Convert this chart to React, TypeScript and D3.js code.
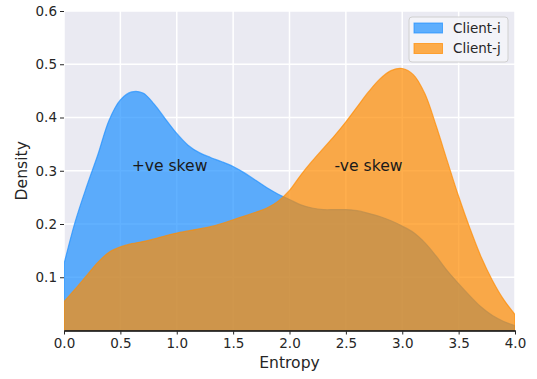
import React, { useEffect, useRef } from "react"
import * as d3 from "d3"

// entropy grid (0.0 .. 4.0, step 0.1)
const entropy = [
	0.0, 0.1, 0.2, 0.3, 0.4, 0.5, 0.6, 0.7, 0.8, 0.9, 1.0, 1.1, 1.2, 1.3, 1.4,
	1.5, 1.6, 1.7, 1.8, 1.9, 2.0, 2.1, 2.2, 2.3, 2.4, 2.5, 2.6, 2.7, 2.8, 2.9,
	3.0, 3.1, 3.2, 3.3, 3.4, 3.5, 3.6, 3.7, 3.8, 3.9, 4.0,
]

const clientI = [
	0.125, 0.205, 0.27, 0.33, 0.395, 0.433, 0.448, 0.446, 0.425, 0.397, 0.37,
	0.348, 0.334, 0.325, 0.317, 0.308, 0.296, 0.282, 0.268, 0.256, 0.246, 0.236,
	0.23, 0.227, 0.227, 0.227, 0.225, 0.22, 0.214, 0.206, 0.196, 0.184, 0.165,
	0.14, 0.112, 0.088, 0.065, 0.044, 0.028, 0.017, 0.009,
]

const clientJ = [
	0.054, 0.078, 0.103, 0.128, 0.147, 0.157, 0.163, 0.167, 0.172, 0.178, 0.183,
	0.187, 0.191, 0.195, 0.201, 0.208, 0.215, 0.222, 0.23, 0.243, 0.263, 0.292,
	0.318, 0.342, 0.366, 0.392, 0.42, 0.448, 0.472, 0.488, 0.492, 0.48, 0.445,
	0.385, 0.318, 0.252, 0.192, 0.138, 0.094, 0.058, 0.03,
]

const seriesNames = ["Client-i", "Client-j"]
const xTicks = [0, 0.5, 1, 1.5, 2, 2.5, 3, 3.5, 4]
const yTicks = [0.1, 0.2, 0.3, 0.4, 0.5, 0.6]
const notes = [
	{ x: 0.6, y: 0.3, text: "+ve skew" },
	{ x: 2.4, y: 0.3, text: "-ve skew" },
]

const colors = ["#1e90ff", "#ff8c00"]
const FONT = "DejaVu Sans, sans-serif"

const App = () => {
	const svgRef = useRef<SVGSVGElement>(null)

	useEffect(() => {
		const width = 537
		const height = 379
		const margin = { top: 11, right: 22, bottom: 48.5, left: 64 }

		const svg = d3.select(svgRef.current)
		svg.selectAll("*").remove()

		const x = d3
			.scaleLinear()
			.domain([0, 4])
			.range([margin.left, width - margin.right])
		const y = d3
			.scaleLinear()
			.domain([0, 0.6])
			.range([height - margin.bottom, margin.top])

		// background
		svg.append("rect")
			.attr("x", x(0))
			.attr("y", y(0.6))
			.attr("width", x(4) - x(0))
			.attr("height", y(0) - y(0.6))
			.attr("fill", "#eaeaf2")

		// grid
		const grid = svg.append("g").attr("stroke", "#fff").attr("stroke-width", 1.5)
		grid.selectAll(".vg")
			.data(xTicks)
			.join("line")
			.attr("x1", (d) => x(d))
			.attr("x2", (d) => x(d))
			.attr("y1", y(0))
			.attr("y2", y(0.6))
		grid.selectAll(".hg")
			.data(yTicks)
			.join("line")
			.attr("x1", x(0))
			.attr("x2", x(4))
			.attr("y1", (d) => y(d))
			.attr("y2", (d) => y(d))

		svg.append("defs")
			.append("clipPath")
			.attr("id", "plot-clip")
			.append("rect")
			.attr("x", x(0))
			.attr("y", y(0.6))
			.attr("width", x(4) - x(0))
			.attr("height", y(0) - y(0.6))

		const area = d3
			.area<number>()
			.x((_, i) => x(entropy[i]))
			.y0(y(0))
			.y1((d) => y(d))
			.curve(d3.curveCatmullRom)

		svg.append("g")
			.attr("clip-path", "url(#plot-clip)")
			.selectAll("path")
			.data([clientI, clientJ])
			.join("path")
			.attr("d", (d) => area(d))
			.attr("fill", (_, i) => colors[i])
			.attr("fill-opacity", 0.7)
			.attr("stroke", (_, i) => colors[i])
			.attr("stroke-opacity", 0.7)
			.attr("stroke-width", 1.2)

		// axes
		const xAxis = svg.append("g")
			.attr("transform", `translate(0, ${y(0)})`)
			.call(
				d3.axisBottom(x)
					.tickValues(xTicks)
					.tickFormat(d3.format(".1f"))
					.tickSize(4)
					.tickSizeOuter(0)
					.tickPadding(4)
			)
		xAxis.select(".domain").attr("stroke", "#000").attr("stroke-width", 1.3)
		xAxis.selectAll(".tick line").attr("stroke", "#262626")
		xAxis.selectAll("text")
			.attr("font-family", FONT)
			.attr("font-size", 13.5)
			.attr("fill", "#262626")

		const yAxis = svg.append("g")
			.attr("transform", `translate(${x(0)}, 0)`)
			.call(
				d3.axisLeft(y)
					.tickValues(yTicks)
					.tickFormat(d3.format(".1f"))
					.tickSize(4)
					.tickPadding(3)
			)
		yAxis.select(".domain").remove()
		yAxis.selectAll(".tick line").attr("stroke", "#262626")
		yAxis.selectAll("text")
			.attr("font-family", FONT)
			.attr("font-size", 13.5)
			.attr("fill", "#262626")

		// axis labels
		svg.append("text")
			.attr("x", (x(0) + x(4)) / 2)
			.attr("y", 368)
			.attr("text-anchor", "middle")
			.attr("font-family", FONT)
			.attr("font-size", 15.6)
			.attr("fill", "#262626")
			.text("Entropy")
		svg.append("text")
			.attr("transform", `translate(27, ${(y(0) + y(0.6)) / 2}) rotate(-90)`)
			.attr("text-anchor", "middle")
			.attr("font-family", FONT)
			.attr("font-size", 15.6)
			.attr("fill", "#262626")
			.text("Density")

		// annotations
		svg.selectAll(".note")
			.data(notes)
			.join("text")
			.attr("x", (d) => x(d.x))
			.attr("y", (d) => y(d.y))
			.attr("font-family", FONT)
			.attr("font-size", 15.6)
			.attr("fill", "#1a1a1a")
			.text((d) => d.text)

		// legend
		const legend = svg.append("g").attr("transform", "translate(409, 17)")
		legend.append("rect")
			.attr("width", 99)
			.attr("height", 45)
			.attr("rx", 3)
			.attr("fill", "#f4f4f8")
			.attr("fill-opacity", 0.9)
			.attr("stroke", "#d0d0d0")
		const items = legend.selectAll(".item")
			.data(seriesNames)
			.join("g")
			.attr("transform", (_, i) => `translate(5, ${6 + i * 20.5})`)
		items.append("rect")
			.attr("width", 28.5)
			.attr("height", 10)
			.attr("fill", (_, i) => colors[i])
			.attr("fill-opacity", 0.7)
			.attr("stroke", (_, i) => colors[i])
			.attr("stroke-opacity", 0.7)
		items.append("text")
			.attr("x", 39)
			.attr("y", 5)
			.attr("dy", "0.35em")
			.attr("font-family", FONT)
			.attr("font-size", 13.5)
			.attr("fill", "#262626")
			.text((d) => d)
	}, [])

	return (
		<svg
			ref={svgRef}
			width={537}
			height={379}
			style={{ position: "absolute", left: 0, top: 0, background: "#fff" }}
		/>
	)
}

export default App
